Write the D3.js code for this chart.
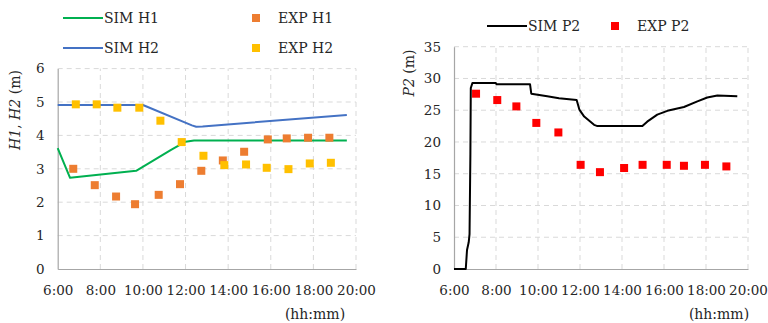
<!DOCTYPE html>
<html>
<head>
<meta charset="utf-8">
<script src="https://cdn.jsdelivr.net/npm/d3@7"></script>
<style>
  body { margin: 0; background: #fff; }
  .grid line { stroke: #d9d9d9; stroke-dasharray: 5,4; }
</style>
</head>
<body>
<script>
// time in hours (6.5 = 6:30)
const timeTicks = [6, 8, 10, 12, 14, 16, 18, 20];

// left chart
const simH1Time = [6.0, 6.58, 9.68, 10.5, 11.3, 12.0, 12.4, 13.5, 19.57];
const simH1 = [3.62, 2.73, 2.94, 3.25, 3.56, 3.81, 3.85, 3.85, 3.85];
const simH2Time = [6.0, 10.0, 12.3, 12.5, 12.8, 19.57];
const simH2 = [4.91, 4.91, 4.3, 4.26, 4.27, 4.61];
const expH1Time = [6.73, 7.74, 8.74, 9.63, 10.74, 11.74, 12.74, 13.75, 14.75, 15.86, 16.75, 17.75, 18.75];
const expH1 = [3.0, 2.51, 2.17, 1.94, 2.22, 2.54, 2.94, 3.25, 3.51, 3.88, 3.91, 3.93, 3.93];
const expH2Time = [6.85, 7.83, 8.8, 9.83, 10.82, 11.82, 12.84, 13.82, 14.84, 15.81, 16.83, 17.83, 18.82];
const expH2 = [4.93, 4.93, 4.83, 4.83, 4.44, 3.8, 3.39, 3.11, 3.13, 3.03, 2.99, 3.16, 3.18];
const hTicks = [0, 1, 2, 3, 4, 5, 6];

// right chart
const simP2Time = [6.0, 6.56, 6.62, 6.7, 6.74, 6.78, 6.8, 6.88, 7.99, 8.02, 9.62, 9.68, 10.44, 11.0, 11.84, 11.97, 12.2, 12.67, 12.83, 14.97, 15.2, 15.68, 16.16, 16.95, 17.59, 18.06, 18.54, 19.49];
const simP2 = [0, 0, 3.0, 4.2, 5.5, 18, 28.5, 29.3, 29.3, 29.1, 29.1, 27.6, 27.2, 26.9, 26.6, 25.1, 24.0, 22.7, 22.5, 22.5, 23.2, 24.3, 24.9, 25.5, 26.4, 27.0, 27.3, 27.2];
const expP2Time = [7.05, 8.06, 8.97, 9.92, 10.97, 12.03, 12.95, 14.1, 14.98, 16.13, 16.95, 17.95, 18.97];
const expP2 = [27.6, 26.6, 25.6, 23.0, 21.5, 16.4, 15.25, 15.9, 16.4, 16.4, 16.25, 16.4, 16.15];
const pTicks = [0, 5, 10, 15, 20, 25, 30, 35];

const FONT = '"DejaVu Serif", serif';
const FS = 13.5;   // ticks
const LS = 14;     // legend + labels

const svg = d3.select('body').append('svg')
  .attr('width', 768).attr('height', 323)
  .attr('font-family', FONT).style('font-family', FONT);

const fmtTime = d => d + ':00';

function drawPanel(o) {
  const x = d3.scaleLinear().domain([6, 20]).range([o.x0, o.x1]);
  const y = d3.scaleLinear().domain([o.yTicks[0], o.yTicks[o.yTicks.length - 1]]).range([o.y0, o.y1]);
  const g = svg.append('g');

  // grid
  const grid = g.append('g').attr('class', 'grid');
  grid.selectAll('.h').data(o.yTicks.slice(1)).enter().append('line')
    .attr('x1', o.x0).attr('x2', o.x1).attr('y1', d => y(d)).attr('y2', d => y(d));
  grid.selectAll('.v').data(timeTicks.slice(1)).enter().append('line')
    .attr('y1', o.y0).attr('y2', o.y1).attr('x1', d => x(d)).attr('x2', d => x(d));

  // axes
  const xAxis = g.append('g').attr('transform', `translate(0, ${o.y0})`)
    .call(d3.axisBottom(x).tickValues(timeTicks).tickFormat(fmtTime).tickSize(0).tickPadding(16));
  const yAxis = g.append('g').attr('transform', `translate(${o.x0}, 0)`)
    .call(d3.axisLeft(y).tickValues(o.yTicks).tickFormat(d3.format('d')).tickSize(0).tickPadding(13));
  [xAxis, yAxis].forEach(a => {
    a.attr('font-family', FONT).attr('font-size', FS);
    a.select('.domain').attr('stroke', '#a6a6a6').attr('stroke-width', 1.2);
    a.selectAll('text').attr('fill', '#262626');
  });

  // lines
  o.lines.forEach(l => {
    const pts = l.t.map((t, i) => [t, l.v[i]]);
    g.append('path').datum(pts)
      .attr('fill', 'none').attr('stroke', l.color).attr('stroke-width', 2)
      .attr('stroke-linejoin', 'round')
      .attr('d', d3.line().x(d => x(d[0])).y(d => y(d[1])));
  });

  // markers
  o.points.forEach(p => {
    const pts = p.t.map((t, i) => [t, p.v[i]]);
    g.append('g').selectAll('rect').data(pts).enter().append('rect')
      .attr('x', d => x(d[0]) - 4).attr('y', d => y(d[1]) - 4)
      .attr('width', 8).attr('height', 8).attr('fill', p.color);
  });

  // axis labels
  const yl = svg.append('text')
    .attr('transform', `translate(${o.ylabX}, ${o.ylabY}) rotate(-90)`)
    .attr('text-anchor', 'middle').attr('font-size', LS).attr('fill', '#262626');
  o.ylab.forEach(s => yl.append('tspan').attr('font-style', s[1] ? 'italic' : 'normal').text(s[0]));

  svg.append('text').attr('x', o.xlabX).attr('y', 319).attr('text-anchor', 'middle')
    .attr('font-size', LS).attr('fill', '#262626').text('(hh:mm)');

  // legend
  o.legend.forEach(e => {
    if (e.type === 'line') {
      svg.append('line').attr('x1', e.x).attr('x2', e.x + 40).attr('y1', e.y).attr('y2', e.y)
        .attr('stroke', e.color).attr('stroke-width', 2);
      svg.append('text').attr('x', e.x + 41).attr('y', e.y + 5).attr('font-size', LS)
        .attr('fill', '#262626').text(e.label);
    } else {
      svg.append('rect').attr('x', e.x - 4).attr('y', e.y - 4).attr('width', 8).attr('height', 8).attr('fill', e.color);
      svg.append('text').attr('x', e.x + 22).attr('y', e.y + 5).attr('font-size', LS)
        .attr('fill', '#262626').text(e.label);
    }
  });
}

drawPanel({
  x0: 57.7, x1: 356, y0: 269, y1: 68.6,
  yTicks: hTicks,
  lines: [
    { t: simH1Time, v: simH1, color: '#00b050' },
    { t: simH2Time, v: simH2, color: '#4472c4' }
  ],
  points: [
    { t: expH1Time, v: expH1, color: '#ed7d31' },
    { t: expH2Time, v: expH2, color: '#ffc000' }
  ],
  ylab: [['H1', true], [', ', false], ['H2', true], [' (m)', false]],
  ylabX: 20, ylabY: 110,
  xlabX: 315,
  legend: [
    { type: 'line', x: 63, y: 18, color: '#00b050', label: 'SIM H1' },
    { type: 'line', x: 63, y: 48, color: '#4472c4', label: 'SIM H2' },
    { type: 'rect', x: 256, y: 18, color: '#ed7d31', label: 'EXP H1' },
    { type: 'rect', x: 256, y: 48, color: '#ffc000', label: 'EXP H2' }
  ]
});

drawPanel({
  x0: 454, x1: 748, y0: 269, y1: 46.7,
  yTicks: pTicks,
  lines: [
    { t: simP2Time, v: simP2, color: '#000000' }
  ],
  points: [
    { t: expP2Time, v: expP2, color: '#ff0000' }
  ],
  ylab: [['P2', true], [' (m)', false]],
  ylabX: 414, ylabY: 73,
  xlabX: 719,
  legend: [
    { type: 'line', x: 487, y: 26, color: '#000000', label: 'SIM P2' },
    { type: 'rect', x: 615, y: 26, color: '#ff0000', label: 'EXP P2' }
  ]
});
</script>
</body>
</html>
